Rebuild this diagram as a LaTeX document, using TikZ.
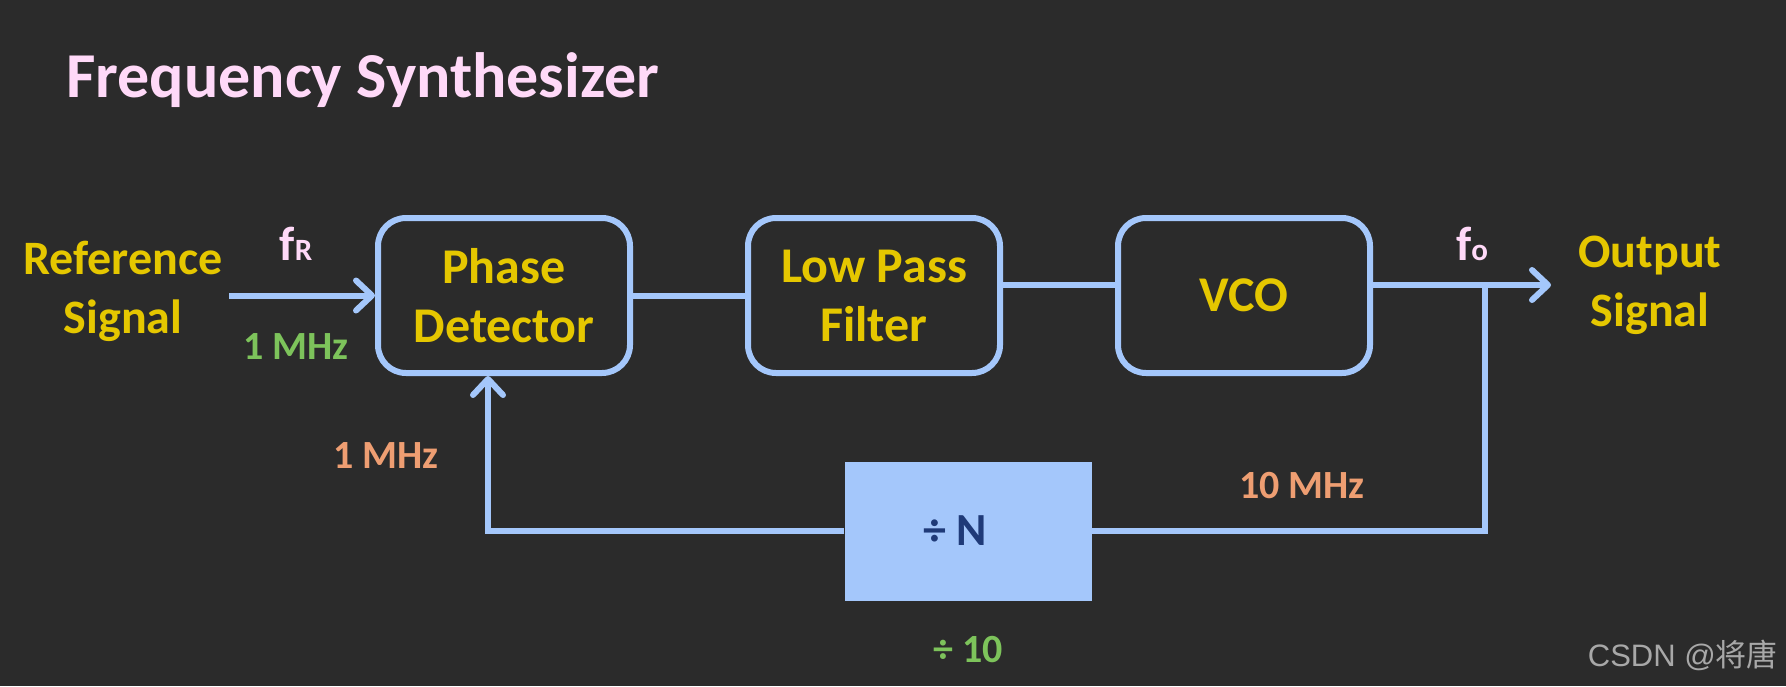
\documentclass[tikz,border=0pt]{standalone}
\usepackage{fontspec}
\setmainfont{Carlito}
\newfontfamily\cjkfont{Noto Sans CJK SC}
\newfontfamily\markfont{Liberation Sans}
\usetikzlibrary{arrows.meta}
\definecolor{bgcol}{HTML}{2B2B2B}
\definecolor{wire}{HTML}{A4C7FB}
\definecolor{gold}{HTML}{E5C700}
\definecolor{pinktxt}{HTML}{FFD9F8}
\definecolor{greentxt}{HTML}{7DC35B}
\definecolor{orangetxt}{HTML}{EE9E72}
\definecolor{navy}{HTML}{1F3A78}
\definecolor{marktxt}{HTML}{A8A8A8}
\tikzset{
  blockbox/.style={draw=wire, line width=6pt, rounded corners=28pt, minimum width=252pt, minimum height=155pt, inner sep=0pt, align=center, text=gold, font=\fontsize{50}{59}\selectfont\bfseries},
  sigtxt/.style={align=center, text=gold, font=\fontsize{48}{59}\selectfont\bfseries},
  freqtxt/.style={anchor=base, font=\fontsize{40}{40}\selectfont\bfseries},
  wireline/.style={draw=wire, line width=6pt},
  wirearrow/.style={wireline, -{Straight Barb[length=16pt, width=30pt, line cap=round, line join=round]}}
}
\begin{document}
\begin{tikzpicture}[x=1pt,y=-1pt]
\fill[bgcol] (0,0) rectangle (1786,686);
\useasboundingbox (0,0) rectangle (1786,686);
\node[anchor=base west, inner sep=0pt, text=pinktxt, font=\fontsize{64}{64}\selectfont\bfseries] (title) at (66,97) {Frequency Synthesizer};
\node[blockbox] (pd) at (504,295.5) {Phase\\Detector};
\node[blockbox] (lpf) at (874,295.5) {Low Pass\\Filter};
\node[blockbox] (vco) at (1244,295.5) {VCO};
\node[fill=wire, minimum width=247pt, minimum height=139pt, inner sep=0pt, text=navy, font=\fontsize{46}{46}\selectfont\bfseries] (div) at (968,531) {÷ N\kern26pt};
\node[sigtxt] (ref) at (123,291) {Reference\\Signal};
\node[sigtxt] (outsig) at (1650,285) {Output\\Signal};
\coordinate (in) at (229,295.5);
\coordinate (tap) at (1485,285);
\coordinate (out) at (1551,285);
\draw[wirearrow] (in) -- (pd.west);
\draw[wireline] (pd.east) -- (lpf.west);
\draw[wireline] (lpf.east |- tap) -- (vco.west |- tap);
\draw[wirearrow] (vco.east |- tap) -- (out);
\draw[wireline] (tap) |- (div.east);
\draw[wirearrow] (div.west) -| ([xshift=-16pt]pd.south);
\node[anchor=base, text=pinktxt, font=\fontsize{48}{48}\selectfont\bfseries] (fr) at (296,260) {f{\fontsize{31}{31}\selectfont R}};
\node[anchor=base, text=pinktxt, font=\fontsize{48}{48}\selectfont\bfseries] (fo) at (1472,260) {f{\fontsize{31}{31}\selectfont o}};
\node[freqtxt, text=greentxt] (fin) at (296,359) {1 MHz};
\node[freqtxt, text=orangetxt] (ffb) at (386,468) {1 MHz};
\node[freqtxt, text=orangetxt] (fout) at (1302,498) {10 MHz};
\node[freqtxt, text=greentxt] (ratio) at (968,662) {÷ 10};
\node[anchor=base east, inner sep=0pt, text=marktxt, font=\markfont\fontsize{31}{31}\selectfont] (mark) at (1778,666) {CSDN @{\cjkfont 将唐}};
\end{tikzpicture}
\end{document}
